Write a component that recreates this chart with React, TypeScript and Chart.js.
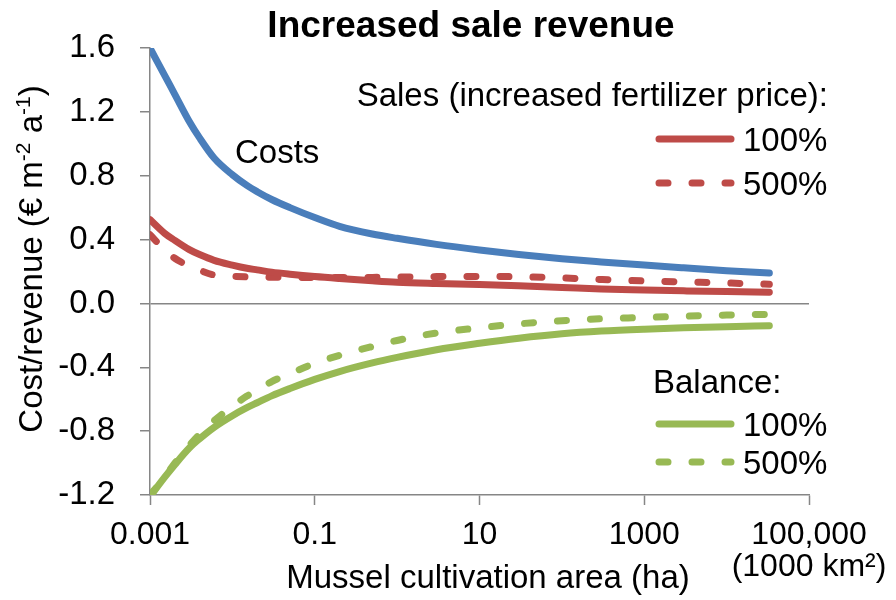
import React, { useEffect, useRef } from "react";
import { Chart, registerables } from "chart.js";

Chart.register(...registerables);

// ---- data ----
const areaHa = [
  0.001, 0.0015, 0.002, 0.003, 0.004, 0.006, 0.01, 0.015, 0.02, 0.03, 0.05, 0.1,
  0.2, 0.5, 1, 3, 10, 30, 100, 300, 1000, 3000, 10000, 33000,
];
const costs = [
  1.6, 1.43, 1.31, 1.14, 1.037, 0.911, 0.806, 0.739, 0.7, 0.651, 0.6, 0.538,
  0.483, 0.435, 0.408, 0.37, 0.335, 0.307, 0.28, 0.26, 0.24, 0.223, 0.205, 0.19,
];
const sales100 = [
  0.525, 0.44, 0.395, 0.337, 0.306, 0.27, 0.24, 0.22, 0.21, 0.196, 0.183, 0.168,
  0.156, 0.142, 0.133, 0.125, 0.118, 0.11, 0.1, 0.09, 0.084, 0.079, 0.074, 0.07,
];
const sales500 = [
  0.43, 0.337, 0.283, 0.234, 0.208, 0.178, 0.17, 0.166, 0.165, 0.164, 0.163, 0.162,
  0.162, 0.163, 0.165, 0.168, 0.169, 0.167, 0.16, 0.15, 0.141, 0.135, 0.128, 0.12,
];
const balance100 = [
  -1.21, -1.09, -1.01, -0.906, -0.848, -0.776, -0.703, -0.653, -0.622, -0.579, -0.533, -0.476,
  -0.4265, -0.3725, -0.338, -0.29, -0.25, -0.218, -0.19, -0.173, -0.161, -0.153, -0.146, -0.14,
];
const balance500 = [
  -1.2, -1.09, -1.0, -0.89, -0.82, -0.735, -0.645, -0.58, -0.545, -0.49, -0.44, -0.375,
  -0.325, -0.27, -0.232, -0.185, -0.153, -0.128, -0.108, -0.096, -0.088, -0.08, -0.073, -0.068,
];

const xTickValues = [0.001, 0.1, 10, 1000, 100000];
const xTickLabels: (string | string[])[] = ["0.001", "0.1", "10", "1000", ["100,000", "(1000 km²)"]];
const yTickValues = [-1.2, -0.8, -0.4, 0.0, 0.4, 0.8, 1.2, 1.6];

const titleText = "Increased sale revenue";
const xAxisTitle = "Mussel cultivation area (ha)";
const costsLabel = "Costs";
const salesHeader = "Sales (increased fertilizer price):";
const balanceHeader = "Balance:";
const pctLabels = ["100%", "500%"];

// ---- styles ----
const BLUE = "#4A7EBB";
const RED = "#BE4B48";
const GREEN = "#98B954";
const AXIS = "#868686";
const FONT = '"Liberation Sans", Arial, Helvetica, sans-serif';
const LW = 7;
const DASH = [9, 24];

const pts = (ys: number[]) => areaHa.map((x, i) => ({ x, y: ys[i] }));

const textPlugin = {
  id: "texts",
  afterDraw(chart: any) {
    const ctx: CanvasRenderingContext2D = chart.ctx;
    ctx.save();
    ctx.fillStyle = "#000";
    ctx.textBaseline = "alphabetic";

    // title
    ctx.font = `bold 37px ${FONT}`;
    ctx.textAlign = "center";
    ctx.fillText(titleText, 471, 37);

    // Costs label
    ctx.font = `33px ${FONT}`;
    ctx.textAlign = "left";
    ctx.fillText(costsLabel, 235, 163);

    // legend headers
    ctx.textAlign = "right";
    ctx.fillText(salesHeader, 828, 106);
    ctx.textAlign = "left";
    ctx.fillText(balanceHeader, 653, 393);

    const entry = (color: string, dash: number[], y: number, label: string) => {
      ctx.save();
      ctx.strokeStyle = color;
      ctx.lineWidth = LW;
      ctx.lineCap = "round";
      ctx.setLineDash(dash);
      ctx.beginPath();
      ctx.moveTo(659, y);
      ctx.lineTo(731, y);
      ctx.stroke();
      ctx.restore();
      ctx.font = `33px ${FONT}`;
      ctx.textAlign = "left";
      ctx.fillText(label, 743, y + 12);
    };
    entry(RED, [], 139, pctLabels[0]);
    entry(RED, DASH, 183, pctLabels[1]);
    entry(GREEN, [], 424, pctLabels[0]);
    entry(GREEN, DASH, 462, pctLabels[1]);

    // x axis title
    ctx.font = `33px ${FONT}`;
    ctx.textAlign = "center";
    ctx.fillText(xAxisTitle, 488, 588);

    // y axis title (rotated, with superscripts)
    const big = `33px ${FONT}`;
    const small = `21px ${FONT}`;
    const parts: [string, boolean][] = [
      ["Cost/revenue (€ m", false],
      ["-2", true],
      [" a", false],
      ["-1", true],
      [")", false],
    ];
    let total = 0;
    const widths = parts.map(([t, sup]) => {
      ctx.font = sup ? small : big;
      const w = ctx.measureText(t).width;
      total += w;
      return w;
    });
    ctx.translate(42, 259);
    ctx.rotate(-Math.PI / 2);
    ctx.textAlign = "left";
    let cx = -total / 2;
    parts.forEach(([t, sup], i) => {
      ctx.font = sup ? small : big;
      ctx.fillText(t, cx, sup ? -12 : 0);
      cx += widths[i];
    });
    ctx.restore();
  },
};

export default function App() {
  const ref = useRef<HTMLCanvasElement | null>(null);
  useEffect(() => {
    if (!ref.current) return;
    const chart = new Chart(ref.current, {
      type: "line",
      data: {
        datasets: [
          { label: "Costs", data: pts(costs), borderColor: BLUE, borderWidth: LW },
          { label: "Sales 100%", data: pts(sales100), borderColor: RED, borderWidth: LW },
          { label: "Sales 500%", data: pts(sales500), borderColor: RED, borderWidth: LW, borderDash: DASH },
          { label: "Balance 100%", data: pts(balance100), borderColor: GREEN, borderWidth: LW },
          { label: "Balance 500%", data: pts(balance500), borderColor: GREEN, borderWidth: LW, borderDash: DASH },
        ],
      } as any,
      options: {
        animation: false,
        responsive: true,
        maintainAspectRatio: false,
        layout: { padding: { left: 0, right: 87, top: 48, bottom: 0 } },
        elements: {
          point: { radius: 0, hoverRadius: 0 },
          line: { borderCapStyle: "round", borderJoinStyle: "round", cubicInterpolationMode: "monotone", fill: false },
        },
        plugins: {
          legend: { display: false },
          title: { display: false },
          tooltip: { enabled: false },
        },
        scales: {
          x: {
            type: "logarithmic",
            min: 0.001,
            max: 100000,
            afterBuildTicks: (s: any) => {
              s.ticks = xTickValues.map((v) => ({ value: v }));
            },
            afterFit: (s: any) => {
              s.height = 105;
              s.paddingLeft = 0;
              s.paddingRight = 0;
            },
            ticks: {
              autoSkip: false,
              maxRotation: 0,
              minRotation: 0,
              padding: 14,
              color: "#000",
              font: { size: 32, family: FONT, lineHeight: 1.0 },
              callback: (_v: any, i: number) => xTickLabels[i],
            },
            grid: { drawOnChartArea: false, drawTicks: true, tickLength: 10, tickColor: AXIS, tickWidth: 1.5 },
            border: { display: true, color: AXIS, width: 1.5 },
          },
          y: {
            type: "linear",
            min: -1.2,
            max: 1.6,
            afterBuildTicks: (s: any) => {
              s.ticks = yTickValues.map((v) => ({ value: v }));
            },
            afterFit: (s: any) => {
              s.width = 150;
              s.paddingTop = 0;
              s.paddingBottom = 0;
            },
            ticks: {
              padding: 25,
              color: "#000",
              font: { size: 33, family: FONT },
              callback: (v: any) => (Math.abs(Number(v)) < 1e-9 ? "0.0" : Number(v).toFixed(1)),
            },
            grid: {
              drawOnChartArea: true,
              color: (c: any) => (c.tick && Math.abs(c.tick.value) < 1e-9 ? AXIS : "rgba(0,0,0,0)"),
              lineWidth: 1.5,
              tickColor: AXIS,
              tickLength: 10,
              tickWidth: 1.5,
            },
            border: { display: true, color: AXIS, width: 1.5 },
          },
        },
      } as any,
      plugins: [textPlugin],
    });
    return () => chart.destroy();
  }, []);

  return (
    <div style={{ position: "absolute", left: 0, top: 0, width: 896, height: 600, background: "#fff" }}>
      <canvas ref={ref} />
    </div>
  );
}
